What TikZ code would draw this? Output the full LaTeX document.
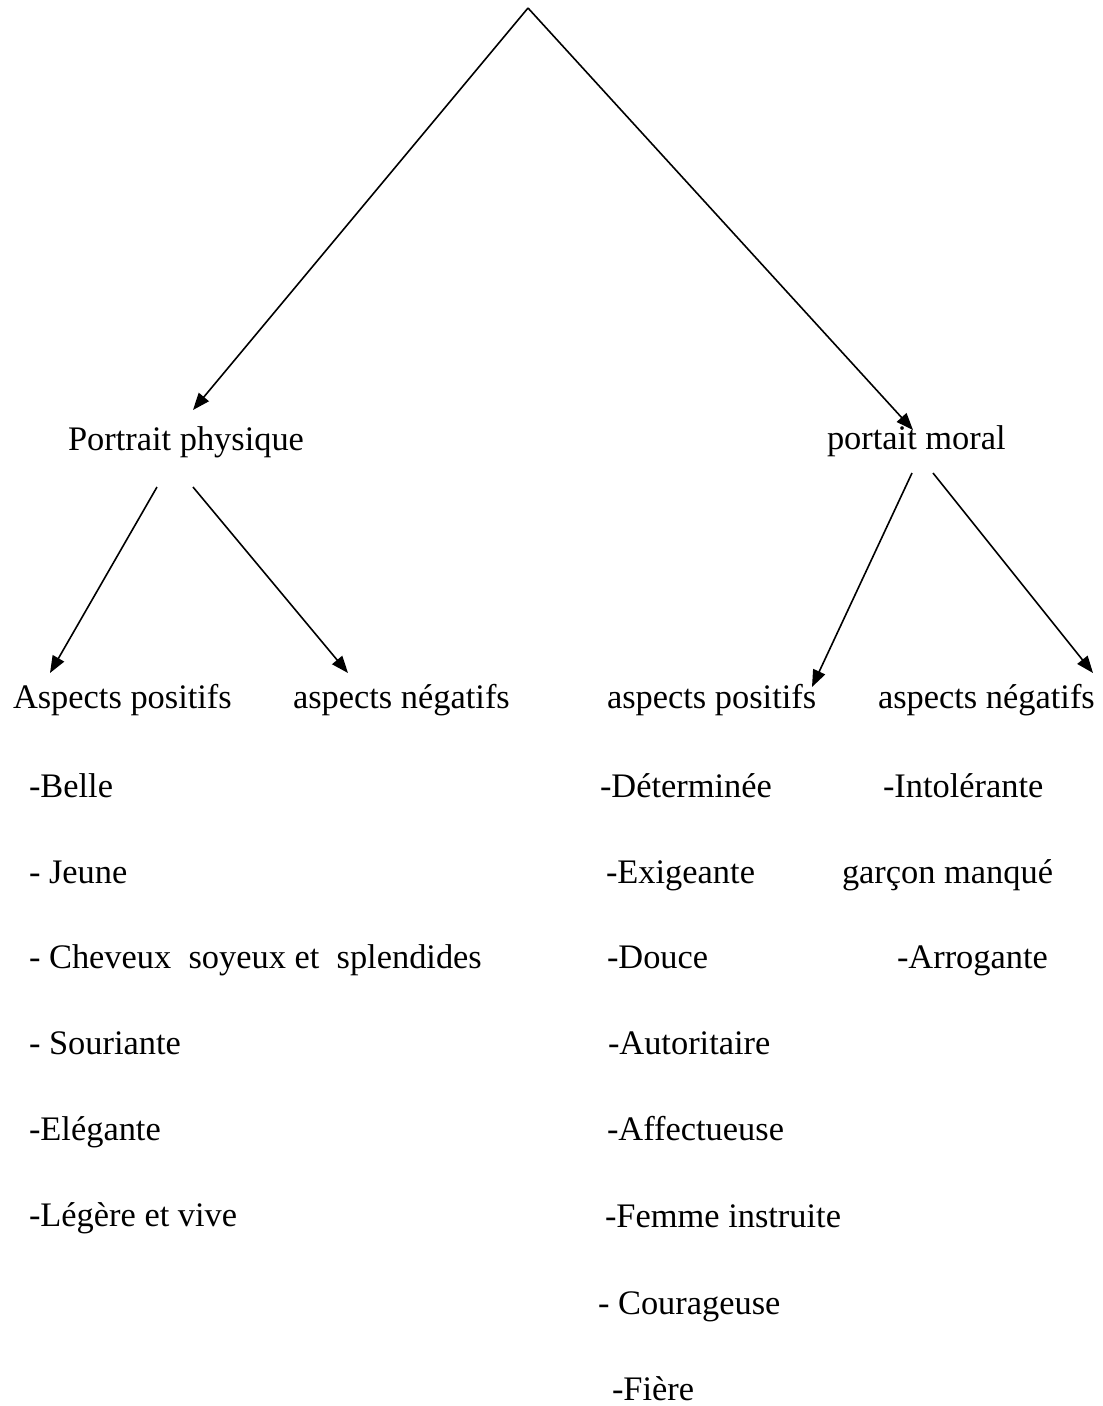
\documentclass[tikz,border=0pt]{standalone}
\usepackage{fontspec}
\setmainfont{Liberation Serif}
\usetikzlibrary{arrows.meta}
\tikzset{
  lbl/.style={anchor=base west, inner sep=0pt, outer sep=0pt, font=\fontsize{34.4}{40}\selectfont},
  conn/.style={line width=1.6pt, -{Triangle[length=17pt,width=13pt]}}
}
\begin{document}
\begin{tikzpicture}[x=1pt,y=-1pt]
\useasboundingbox[fill=white] (0,0) rectangle (1103,1406);
% level 1 headings
\node[lbl] (pp) at (68,450) {Portrait physique};
\node[lbl] (pm) at (827,449) {portait moral};
% level 2 headings
\node[lbl] (ap1) at (13,708) {Aspects positifs};
\node[lbl] (an1) at (293,708) {aspects négatifs};
\node[lbl] (ap2) at (607,708) {aspects positifs};
\node[lbl] (an2) at (878,708) {aspects négatifs};
% left list
\node[lbl] (l1) at (29,797) {-Belle};
\node[lbl] (l2) at (29,883) {- Jeune};
\node[lbl] (l3) at (29,968) {- Cheveux\ \ soyeux et\ \ splendides};
\node[lbl] (l4) at (29,1054) {- Souriante};
\node[lbl] (l5) at (29,1140) {-Elégante};
\node[lbl] (l6) at (29,1226) {-Légère et vive};
% right positive list
\node[lbl] (r1) at (600,797) {-Déterminée};
\node[lbl] (r2) at (606,883) {-Exigeante};
\node[lbl] (r3) at (607,968) {-Douce};
\node[lbl] (r4) at (608,1054) {-Autoritaire};
\node[lbl] (r5) at (607,1140) {-Affectueuse};
\node[lbl] (r6) at (605,1227) {-Femme instruite};
\node[lbl] (r7) at (598,1314) {- Courageuse};
\node[lbl] (r8) at (612,1400) {-Fière};
% right negative list
\node[lbl] (n1) at (883,797) {-Intolérante};
\node[lbl] (n2) at (842,883) {garçon manqué};
\node[lbl] (n3) at (897,968) {-Arrogante};
% connector end points
\coordinate (apex) at (528,8);
\coordinate (ppin) at (193,410);
\coordinate (pmin) at (913,430);
\coordinate (ppoutA) at (157,487);
\coordinate (ppoutB) at (193,487);
\coordinate (ap1in) at (50,673);
\coordinate (an1in) at (348,673);
\coordinate (pmoutA) at (912,473);
\coordinate (pmoutB) at (933,473);
\coordinate (ap2in) at (812,687);
\coordinate (an2in) at (1093,673);
% connectors
\draw[conn] (apex) -- (ppin);
\draw[conn] (apex) -- (pmin);
\draw[conn] (ppoutA) -- (ap1in);
\draw[conn] (ppoutB) -- (an1in);
\draw[conn] (pmoutA) -- (ap2in);
\draw[conn] (pmoutB) -- (an2in);
\end{tikzpicture}
\end{document}
